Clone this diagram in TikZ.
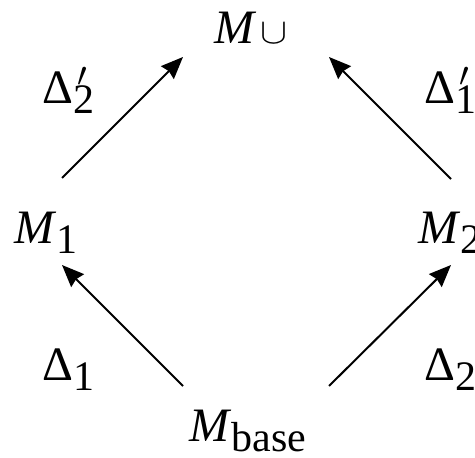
\documentclass[tikz,border=0pt]{standalone}
\usepackage{fontspec}
\usepackage{graphicx}
\setmainfont{Liberation Serif}
\usetikzlibrary{arrows.meta}
\newcommand\subtx[1]{\raisebox{-5pt}{\fontsize{21}{24}\selectfont #1}}
\newcommand\primetx{\makebox[0pt][l]{\kern2pt\raisebox{8.5pt}{\fontsize{19}{20}\selectfont$\prime$}}}
\tikzset{
  lbl/.style={inner sep=0pt, anchor=base west, font=\fontsize{24}{28}\selectfont},
  arr/.style={line width=1pt, -{Stealth[length=11pt,width=9pt,inset=1pt]}}
}
\begin{document}
\begin{tikzpicture}[x=0.5pt,y=-0.5pt]
\useasboundingbox (0,0) rectangle (475,458);
\node[lbl] (mu) at (214,44) {\textit{M}\kern2pt\resizebox{13.5pt}{10pt}{$\cup$}};
\node[lbl] (m1) at (14,244) {\textit{M}\subtx{1}};
\node[lbl] (m2) at (418,244) {\textit{M}\subtx{2}};
\node[lbl] (mb) at (189,441) {\textit{M}\subtx{base}};
\node[lbl] (d2p) at (42,104) {Δ\primetx\subtx{2}};
\node[lbl] (d1p) at (424,104) {Δ\primetx\subtx{1}};
\node[lbl] (d1) at (42,380) {Δ\subtx{1}};
\node[lbl] (d2) at (424,380) {Δ\subtx{2}};
\draw[arr] ([shift={(48,-66)}]m1.base west) -- ([shift={(-31,13)}]mu.base west);
\draw[arr] ([shift={(33,-65)}]m2.base west) -- ([shift={(115,13)}]mu.base west);
\draw[arr] ([shift={(-6,-55)}]mb.base west) -- ([shift={(48,21)}]m1.base west);
\draw[arr] ([shift={(140,-55)}]mb.base west) -- ([shift={(33,21)}]m2.base west);
\end{tikzpicture}
\end{document}
